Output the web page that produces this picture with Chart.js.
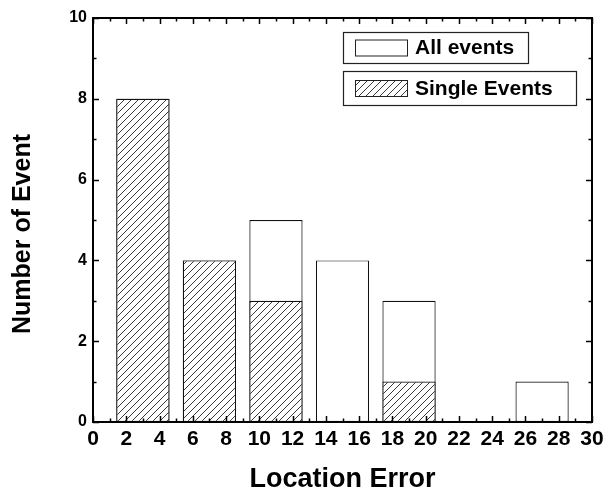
<!DOCTYPE html>
<html><head><meta charset="utf-8">
<script src="https://cdn.jsdelivr.net/npm/chart.js@4/dist/chart.umd.min.js"></script>
<style>html,body{margin:0;padding:0;background:#fff;}#wrap{width:615px;height:493px;}</style>
</head><body><div id="wrap"><canvas id="c" width="615" height="493"></canvas></div>
<script>
// ---- data ----
const binCenters = [3, 7, 11, 15, 19, 23, 27];
const allEvents = [8, 4, 5, 4, 3, 0, 1];
const singleEvents = [8, 4, 3, 0, 1, 0, 0];
const xTickLabels = [0, 2, 4, 6, 8, 10, 12, 14, 16, 18, 20, 22, 24, 26, 28, 30];
const yTickLabels = [0, 2, 4, 6, 8, 10];
const seriesNames = ['All events', 'Single Events'];
const xTitle = 'Location Error';
const yTitle = 'Number of Event';

const FONT = '"Liberation Sans", Arial, sans-serif';
const canvas = document.getElementById('c');
const ctx0 = canvas.getContext('2d');

function makeHatch() {
  const s = 7;
  const c = document.createElement('canvas');
  c.width = s; c.height = s;
  const g = c.getContext('2d');
  g.fillStyle = '#fff'; g.fillRect(0, 0, s, s);
  g.strokeStyle = '#222'; g.lineWidth = 0.9;
  g.beginPath();
  g.moveTo(0, s); g.lineTo(s, 0);
  g.moveTo(-1, 1); g.lineTo(1, -1);
  g.moveTo(s - 1, s + 1); g.lineTo(s + 1, s - 1);
  g.stroke();
  return ctx0.createPattern(c, 'repeat');
}
const hatch = makeHatch();

const toPts = (vals) => binCenters.map((x, i) => ({ x: x, y: vals[i] }));

const frameTicks = {
  id: 'frameTicks',
  afterDatasetsDraw(chart) {
    const { ctx, chartArea: a, scales: { x, y } } = chart;
    ctx.save();
    ctx.strokeStyle = '#000';
    ctx.lineWidth = 1.5;
    ctx.beginPath();
    const xmin = xTickLabels[0], xmax = xTickLabels[xTickLabels.length - 1];
    for (let v = xmin; v <= xmax; v += 1) {
      const px = Math.round(x.getPixelForValue(v)) + 0.5;
      const len = (v % 2 === 0) ? 6 : 3.5;
      ctx.moveTo(px, a.bottom); ctx.lineTo(px, a.bottom - len);
      ctx.moveTo(px, a.top); ctx.lineTo(px, a.top + len);
    }
    const ymin = yTickLabels[0], ymax = yTickLabels[yTickLabels.length - 1];
    for (let v = ymin; v <= ymax; v += 1) {
      const py = Math.round(y.getPixelForValue(v)) + 0.5;
      const len = (v % 2 === 0) ? 6 : 3.5;
      ctx.moveTo(a.left, py); ctx.lineTo(a.left + len, py);
      ctx.moveTo(a.right, py); ctx.lineTo(a.right - len, py);
    }
    ctx.stroke();
    ctx.lineWidth = 2;
    ctx.strokeRect(a.left, a.top, a.right - a.left, a.bottom - a.top);
    ctx.restore();
  }
};

const yTitlePlugin = {
  id: 'yTitlePlugin',
  afterDraw(chart) {
    const { ctx, chartArea: a } = chart;
    ctx.save();
    ctx.translate(23, (a.top + a.bottom) / 2 + 14);
    ctx.rotate(-Math.PI / 2);
    ctx.fillStyle = '#000';
    ctx.font = 'bold 25px ' + FONT;
    ctx.textAlign = 'center';
    ctx.textBaseline = 'middle';
    ctx.fillText(yTitle, 0, 0);
    ctx.restore();
  }
};

const boxLegend = {
  id: 'boxLegend',
  afterDraw(chart) {
    const { ctx, chartArea: a } = chart;
    const ds = chart.data.datasets;
    const items = [
      { x: a.left + 250, y: a.top + 14, w: 185, h: 31, fill: ds[0].backgroundColor, text: ds[0].label },
      { x: a.left + 250, y: a.top + 53, w: 233, h: 34, fill: ds[1].backgroundColor, text: ds[1].label }
    ];
    ctx.save();
    items.forEach(it => {
      ctx.fillStyle = '#fff';
      ctx.fillRect(it.x, it.y, it.w, it.h);
      ctx.strokeStyle = '#222'; ctx.lineWidth = 1.2;
      ctx.strokeRect(it.x + 0.5, it.y + 0.5, it.w, it.h);
      const sx = it.x + 12, sy = it.y + it.h / 2 - 8;
      ctx.fillStyle = it.fill;
      ctx.fillRect(sx, sy, 52, 16);
      ctx.lineWidth = 1;
      ctx.strokeRect(sx + 0.5, sy + 0.5, 52, 16);
      ctx.fillStyle = '#000';
      ctx.font = 'bold 21px ' + FONT;
      ctx.textBaseline = 'middle';
      ctx.textAlign = 'left';
      ctx.fillText(it.text, sx + 60, it.y + it.h / 2 + 1);
    });
    ctx.restore();
  }
};

// bar width: the ruler's minimum spacing is one tick step (2 units); bars span 3.2 units
const barOpts = { grouped: false, barPercentage: 1.6, categoryPercentage: 1.0, borderSkipped: false, borderColor: '#111', borderWidth: 1.2 };

new Chart(canvas, {
  type: 'bar',
  data: {
    datasets: [
      Object.assign({ label: seriesNames[0], data: toPts(allEvents), backgroundColor: '#fff', order: 2 }, barOpts),
      Object.assign({ label: seriesNames[1], data: toPts(singleEvents), backgroundColor: hatch, order: 1 }, barOpts)
    ]
  },
  options: {
    responsive: false,
    devicePixelRatio: 1,
    animation: false,
    layout: { padding: { top: 18, right: 23, left: 0, bottom: 0 } },
    plugins: { legend: { display: false }, tooltip: { enabled: false } },
    scales: {
      x: {
        type: 'linear', offset: false, min: xTickLabels[0], max: xTickLabels[xTickLabels.length - 1],
        afterBuildTicks: (s) => { s.ticks = xTickLabels.map(v => ({ value: v })); },
        afterFit: (s) => { s.height = 71; },
        grid: { display: false, drawTicks: false, offset: false },
        border: { display: false },
        ticks: { padding: 5, color: '#000', font: { family: FONT, size: 21, weight: 'bold' }, maxRotation: 0, autoSkip: false },
        title: { display: true, text: xTitle, color: '#000', font: { family: FONT, size: 27, weight: 'bold', lineHeight: 1 }, padding: { top: 0, bottom: 0 } }
      },
      y: {
        type: 'linear', min: yTickLabels[0], max: yTickLabels[yTickLabels.length - 1],
        afterBuildTicks: (s) => { s.ticks = yTickLabels.map(v => ({ value: v })); },
        afterFit: (s) => { s.width = 93; },
        grid: { display: false, drawTicks: false },
        border: { display: false },
        ticks: { padding: 6, color: '#000', font: { family: FONT, size: 16, weight: 'bold' } },
        title: { display: false, text: yTitle }
      }
    }
  },
  plugins: [frameTicks, boxLegend, yTitlePlugin]
});
</script>
</body></html>
